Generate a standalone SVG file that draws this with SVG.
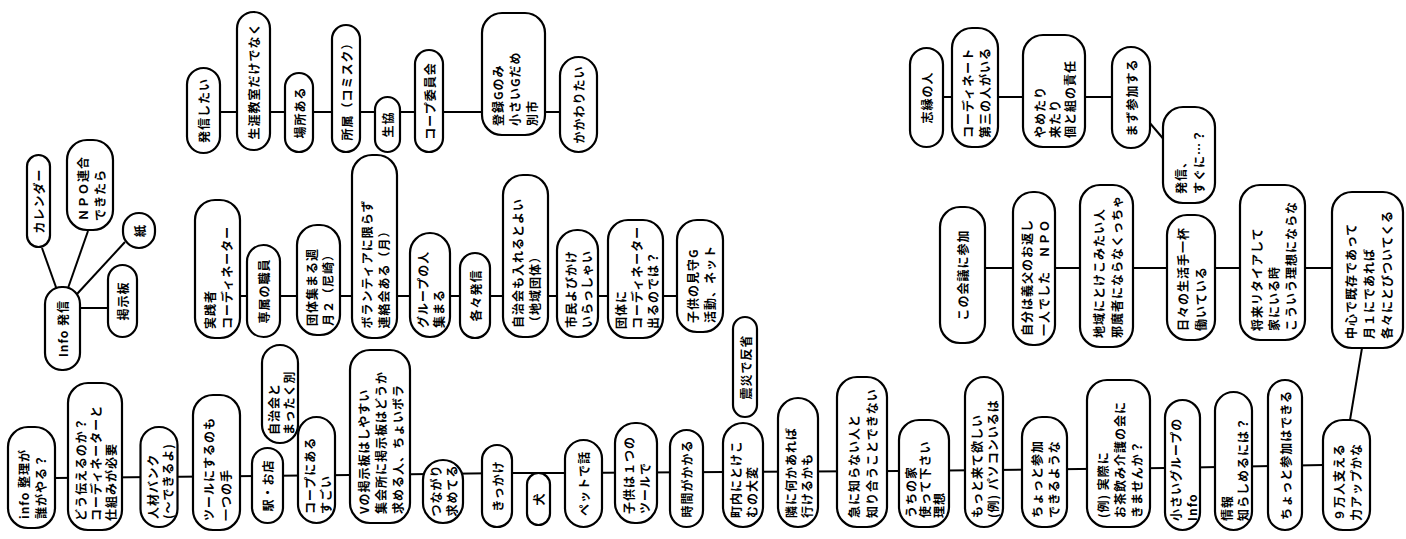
<svg xmlns="http://www.w3.org/2000/svg" width="1406" height="539" viewBox="0 0 1406 539">
<style>
.n rect{fill:#fff;stroke:#000;stroke-width:2.2}
.n text{font-family:"Noto Sans CJK JP","Noto Sans",sans-serif;font-size:12px;font-weight:700;fill:#000;dominant-baseline:central;letter-spacing:1px}
.n text.m{text-anchor:middle}
.c line,.c polyline{stroke:#000;stroke-width:2;fill:none}
</style>
<rect width="1406" height="539" fill="#fff"/>
<g id="connectors" class="c">
<line x1="42" y1="248" x2="57" y2="290"/>
<line x1="88" y1="231" x2="67" y2="291"/>
<line x1="125" y1="242" x2="77" y2="294"/>
<line x1="80" y1="308" x2="108" y2="308"/>
<line x1="220" y1="112" x2="560" y2="112"/>
<line x1="240" y1="296" x2="677" y2="296"/>
<polyline points="55,478 350,475 512,473 565,473 900,471 1165,468 1323,465"/>
<line x1="1350" y1="420" x2="1362" y2="348"/>
<line x1="943" y1="97" x2="1112" y2="97"/>
<line x1="1149" y1="122" x2="1166" y2="142"/>
<line x1="985" y1="268" x2="1332" y2="268"/>
</g>
<g id="info-hasshin" class="n" transform="translate(62.5,328.5) rotate(-90)"><rect x="-41.5" y="-17.5" width="83" height="35" rx="17"/><text class="m" x="0" y="0">Info 発信</text></g>
<g id="calendar" class="n" transform="translate(38.5,201) rotate(-90)"><rect x="-46" y="-11.5" width="92" height="23" rx="11.5"/><text class="m" x="0" y="0">カレンダー</text></g>
<g id="npo" class="n" transform="translate(90,185) rotate(-90)"><rect x="-45" y="-23" width="90" height="46" rx="20"/><text><tspan x="-36" y="-8.5">ＮＰＯ連合</tspan><tspan x="-36" y="8.5">できたら</tspan></text></g>
<g id="kami" class="n" transform="translate(139,230.5) rotate(-90)"><rect x="-17.5" y="-16" width="35" height="32" rx="16"/><text class="m" x="0" y="0">紙</text></g>
<g id="keijiban" class="n" transform="translate(122.5,301) rotate(-90)"><rect x="-36" y="-14.5" width="72" height="29" rx="14.5"/><text class="m" x="0" y="0">掲示板</text></g>
<g id="hasshin-shitai" class="n" transform="translate(203.5,110.5) rotate(-90)"><rect x="-42.5" y="-16.5" width="85" height="33" rx="16.5"/><text class="m" x="0" y="0">発信したい</text></g>
<g id="shogai" class="n" transform="translate(253.5,81) rotate(-90)"><rect x="-69" y="-16.5" width="138" height="33" rx="16.5"/><text class="m" x="0" y="0">生涯教室だけでなく</text></g>
<g id="basho" class="n" transform="translate(299,112.5) rotate(-90)"><rect x="-39.5" y="-14" width="79" height="28" rx="14"/><text class="m" x="0" y="0">場所ある</text></g>
<g id="shozoku" class="n" transform="translate(346,88.5) rotate(-90)"><rect x="-63.5" y="-14" width="127" height="28" rx="14"/><text class="m" x="0" y="0">所属（コミスク）</text></g>
<g id="seikyo" class="n" transform="translate(387.5,124.5) rotate(-90)"><rect x="-27.5" y="-12.5" width="55" height="25" rx="12.5"/><text class="m" x="0" y="0">生協</text></g>
<g id="coop-iinkai" class="n" transform="translate(429,101) rotate(-90)"><rect x="-51" y="-14" width="102" height="28" rx="14"/><text class="m" x="0" y="0">コープ委員会</text></g>
<g id="toroku" class="n" transform="translate(513.5,74) rotate(-90)"><rect x="-61" y="-31.5" width="122" height="63" rx="20"/><text><tspan x="-52" y="-17">登録Gのみ</tspan><tspan x="-52" y="0">小さいGだめ</tspan><tspan x="-52" y="17">別市</tspan></text></g>
<g id="kakawari" class="n" transform="translate(578.5,104.5) rotate(-90)"><rect x="-47.5" y="-18.5" width="95" height="37" rx="18.5"/><text class="m" x="0" y="0">かかわりたい</text></g>
<g id="jissen" class="n" transform="translate(217.5,269) rotate(-90)"><rect x="-69" y="-22.5" width="138" height="45" rx="20"/><text><tspan x="-60" y="-8.5">実践者</tspan><tspan x="-60" y="8.5">コーディネーター</tspan></text></g>
<g id="senzoku" class="n" transform="translate(263.5,291) rotate(-90)"><rect x="-46" y="-16.5" width="92" height="33" rx="16.5"/><text class="m" x="0" y="0">専属の職員</text></g>
<g id="dantai" class="n" transform="translate(318.5,280) rotate(-90)"><rect x="-55" y="-21.5" width="110" height="43" rx="20"/><text><tspan x="-46" y="-8">団体集まる週</tspan><tspan x="-46" y="8">月２（尼崎）</tspan></text></g>
<g id="volunteer" class="n" transform="translate(374.5,246.5) rotate(-90)"><rect x="-91.5" y="-22.5" width="183" height="45" rx="20"/><text><tspan x="-82" y="-8.5">ボランティアに限らず</tspan><tspan x="-82" y="8.5">連絡会ある（月）</tspan></text></g>
<g id="group" class="n" transform="translate(430,285) rotate(-90)"><rect x="-52" y="-20" width="104" height="40" rx="20"/><text><tspan x="-43" y="-8">グループの人</tspan><tspan x="-43" y="8">集まる</tspan></text></g>
<g id="kakuon" class="n" transform="translate(475,295.5) rotate(-90)"><rect x="-42.5" y="-15" width="85" height="30" rx="15"/><text class="m" x="0" y="0">各々発信</text></g>
<g id="jichikai" class="n" transform="translate(525.5,256) rotate(-90)"><rect x="-81" y="-22.5" width="162" height="45" rx="20"/><text><tspan x="-72" y="-8.5">自治会も入れるとよい</tspan><tspan x="-72" y="8.5">（地域団体）</tspan></text></g>
<g id="shimin" class="n" transform="translate(577.5,283.5) rotate(-90)"><rect x="-53.5" y="-20.5" width="107" height="41" rx="20"/><text><tspan x="-44.5" y="-8">市民よびかけ</tspan><tspan x="-44.5" y="8">いらっしゃい</tspan></text></g>
<g id="dantaini" class="n" transform="translate(635.5,279) rotate(-90)"><rect x="-59" y="-27.5" width="118" height="55" rx="20"/><text><tspan x="-50" y="-16">団体に</tspan><tspan x="-50" y="0">コーディネーター</tspan><tspan x="-50" y="16">出るのでは？</tspan></text></g>
<g id="kodomo-g" class="n" transform="translate(700,276) rotate(-90)"><rect x="-56" y="-23" width="112" height="46" rx="20"/><text><tspan x="-47" y="-8.5">子供の見守G</tspan><tspan x="-47" y="8.5">活動、ネット</tspan></text></g>
<g id="b1" class="n" transform="translate(31.5,477.5) rotate(-90)"><rect x="-50.5" y="-23.5" width="101" height="47" rx="20"/><text><tspan x="-41.5" y="-8.5">info 整理が</tspan><tspan x="-41.5" y="8.5">誰がやる？</tspan></text></g>
<g id="b2" class="n" transform="translate(95,456.5) rotate(-90)"><rect x="-73.5" y="-27" width="147" height="54" rx="20"/><text><tspan x="-64.5" y="-15">どう伝えるのか？</tspan><tspan x="-64.5" y="0">コーディネーターと</tspan><tspan x="-64.5" y="15">仕組みが必要</tspan></text></g>
<g id="b3" class="n" transform="translate(159,477) rotate(-90)"><rect x="-50" y="-18.5" width="100" height="37" rx="18"/><text><tspan x="-42" y="-7.5">人材バンク</tspan><tspan x="-42" y="7.5">(〜できるよ)</tspan></text></g>
<g id="b4" class="n" transform="translate(216.5,462.5) rotate(-90)"><rect x="-67.5" y="-23.5" width="135" height="47" rx="20"/><text><tspan x="-58.5" y="-8.5">ツールにするのも</tspan><tspan x="-58.5" y="8.5">一つの手</tspan></text></g>
<g id="b5" class="n" transform="translate(267.5,485.5) rotate(-90)"><rect x="-37.5" y="-15.5" width="75" height="31" rx="15.5"/><text class="m" x="0" y="0">駅・お店</text></g>
<g id="jichi-betsu" class="n" transform="translate(280,394) rotate(-90)"><rect x="-49" y="-18" width="98" height="36" rx="18"/><text><tspan x="-41" y="-7.5">自治会と</tspan><tspan x="-41" y="7.5">まったく別</tspan></text></g>
<g id="b6" class="n" transform="translate(316.5,470) rotate(-90)"><rect x="-53" y="-18.5" width="106" height="37" rx="18.5"/><text><tspan x="-44" y="-8">コープにある</tspan><tspan x="-44" y="8">すごい</tspan></text></g>
<g id="b7" class="n" transform="translate(380,436.5) rotate(-90)"><rect x="-86.5" y="-30" width="173" height="60" rx="20"/><text><tspan x="-77.5" y="-17">Vの掲示板はしやすい</tspan><tspan x="-77.5" y="0">集会所に掲示板はどうか</tspan><tspan x="-77.5" y="17">求める人、ちょいボラ</tspan></text></g>
<g id="b8" class="n" transform="translate(443,491.5) rotate(-90)"><rect x="-31.5" y="-20" width="63" height="40" rx="20"/><text><tspan x="-25" y="-8">つながり</tspan><tspan x="-25" y="8">求めてる</tspan></text></g>
<g id="b9" class="n" transform="translate(497,486) rotate(-90)"><rect x="-41" y="-15" width="82" height="30" rx="15"/><text class="m" x="0" y="0">きっかけ</text></g>
<g id="b10" class="n" transform="translate(538.5,499) rotate(-90)"><rect x="-26" y="-11.5" width="52" height="23" rx="11.5"/><text class="m" x="0" y="0">犬</text></g>
<g id="b11" class="n" transform="translate(583.5,483.5) rotate(-90)"><rect x="-43.5" y="-18.5" width="87" height="37" rx="18.5"/><text class="m" x="0" y="0">ペットで話</text></g>
<g id="b12" class="n" transform="translate(636,473) rotate(-90)"><rect x="-50" y="-21" width="100" height="42" rx="20"/><text><tspan x="-41" y="-8">子供は１つの</tspan><tspan x="-41" y="8">ツールで</tspan></text></g>
<g id="b13" class="n" transform="translate(686.5,478.5) rotate(-90)"><rect x="-48.5" y="-16.5" width="97" height="33" rx="16.5"/><text class="m" x="0" y="0">時間がかかる</text></g>
<g id="b14" class="n" transform="translate(743,475) rotate(-90)"><rect x="-52" y="-20" width="104" height="40" rx="20"/><text><tspan x="-43" y="-8">町内にとけこ</tspan><tspan x="-43" y="8">むの大変</tspan></text></g>
<g id="shinsai" class="n" transform="translate(745,367) rotate(-90)"><rect x="-50" y="-12" width="100" height="24" rx="12"/><text class="m" x="0" y="0">震災で反省</text></g>
<g id="b15" class="n" transform="translate(798,462.5) rotate(-90)"><rect x="-64.5" y="-20" width="129" height="40" rx="20"/><text><tspan x="-55.5" y="-8">隣に何かあれば</tspan><tspan x="-55.5" y="8">行けるかも</tspan></text></g>
<g id="b16" class="n" transform="translate(862,452) rotate(-90)"><rect x="-75" y="-25" width="150" height="50" rx="20"/><text><tspan x="-66" y="-9">急に知らない人と</tspan><tspan x="-66" y="9">知り合うことできない</tspan></text></g>
<g id="b17" class="n" transform="translate(924,473.5) rotate(-90)"><rect x="-53.5" y="-25" width="107" height="50" rx="20"/><text><tspan x="-44.5" y="-14">うちの家</tspan><tspan x="-44.5" y="0">使って下さい</tspan><tspan x="-44.5" y="14">理想</tspan></text></g>
<g id="b18" class="n" transform="translate(984,452) rotate(-90)"><rect x="-75" y="-19" width="150" height="38" rx="19"/><text><tspan x="-66" y="-8">もっと来て欲しい</tspan><tspan x="-66" y="8">(例) パソコンいるは</tspan></text></g>
<g id="b19" class="n" transform="translate(1044.5,472) rotate(-90)"><rect x="-55" y="-22.5" width="110" height="45" rx="20"/><text><tspan x="-46" y="-8.5">ちょっと参加</tspan><tspan x="-46" y="8.5">できるような</tspan></text></g>
<g id="b20" class="n" transform="translate(1118.5,453.5) rotate(-90)"><rect x="-73.5" y="-31.5" width="147" height="63" rx="20"/><text><tspan x="-64.5" y="-17">(例) 実際に</tspan><tspan x="-64.5" y="0">お茶飲み介護の会に</tspan><tspan x="-64.5" y="17">きませんか？</tspan></text></g>
<g id="b21" class="n" transform="translate(1182.5,465) rotate(-90)"><rect x="-65" y="-17.5" width="130" height="35" rx="17.5"/><text><tspan x="-56" y="-8">小さいグループの</tspan><tspan x="-56" y="8">Info</tspan></text></g>
<g id="b22" class="n" transform="translate(1233.5,461) rotate(-90)"><rect x="-69" y="-18.5" width="138" height="37" rx="18.5"/><text><tspan x="-60" y="-8">情報</tspan><tspan x="-60" y="8">知らしめるには？</tspan></text></g>
<g id="b23" class="n" transform="translate(1285,455) rotate(-90)"><rect x="-75" y="-17" width="150" height="34" rx="17"/><text class="m" x="0" y="0">ちょっと参加はできる</text></g>
<g id="b24" class="n" transform="translate(1346.5,475) rotate(-90)"><rect x="-55" y="-23.5" width="110" height="47" rx="20"/><text><tspan x="-46" y="-8.5">９万人支える</tspan><tspan x="-46" y="8.5">力アップかな</tspan></text></g>
<g id="r1" class="n" transform="translate(926.5,97.5) rotate(-90)"><rect x="-49.5" y="-16.5" width="99" height="33" rx="16.5"/><text class="m" x="0" y="0">志縁の人</text></g>
<g id="r2" class="n" transform="translate(975,87.5) rotate(-90)"><rect x="-59.5" y="-23" width="119" height="46" rx="20"/><text><tspan x="-50.5" y="-8.5">コーディネート</tspan><tspan x="-50.5" y="8.5">第三の人がいる</tspan></text></g>
<g id="r3" class="n" transform="translate(1054,91) rotate(-90)"><rect x="-56" y="-31" width="112" height="62" rx="20"/><text><tspan x="-47" y="-15">やめたり</tspan><tspan x="-47" y="0">来たり</tspan><tspan x="-47" y="15">個と組の責任</tspan></text></g>
<g id="r4" class="n" transform="translate(1131,97.5) rotate(-90)"><rect x="-50.5" y="-19" width="101" height="38" rx="19"/><text class="m" x="0" y="0">まず参加する</text></g>
<g id="r5" class="n" transform="translate(1189,155) rotate(-90)"><rect x="-48" y="-26" width="96" height="52" rx="20"/><text><tspan x="-39" y="-9">発信、</tspan><tspan x="-39" y="9">すぐに…？</tspan></text></g>
<g id="m1" class="n" transform="translate(962.5,275) rotate(-90)"><rect x="-68" y="-22.5" width="136" height="45" rx="20"/><text class="m" x="0" y="0">この会議に参加</text></g>
<g id="m2" class="n" transform="translate(1034,268.5) rotate(-90)"><rect x="-76.5" y="-21" width="153" height="42" rx="20"/><text><tspan x="-67.5" y="-8.5">自分は義父のお返し</tspan><tspan x="-67.5" y="8.5">一人でした　ＮＰＯ</tspan></text></g>
<g id="m3" class="n" transform="translate(1106.5,266) rotate(-90)"><rect x="-81" y="-26.5" width="162" height="53" rx="20"/><text><tspan x="-72" y="-9">地域にとけこみたい人</tspan><tspan x="-72" y="9">邪魔者にならなくっちゃ</tspan></text></g>
<g id="m4" class="n" transform="translate(1191,277.5) rotate(-90)"><rect x="-62.5" y="-24" width="125" height="48" rx="20"/><text><tspan x="-53.5" y="-9">日々の生活手一杯</tspan><tspan x="-53.5" y="9">働いている</tspan></text></g>
<g id="m5" class="n" transform="translate(1272.5,262.5) rotate(-90)"><rect x="-77.5" y="-32.5" width="155" height="65" rx="20"/><text><tspan x="-68.5" y="-17">将来リタイアして</tspan><tspan x="-68.5" y="0">家にいる時</tspan><tspan x="-68.5" y="17">こういう理想にならな</tspan></text></g>
<g id="m6" class="n" transform="translate(1367.5,270) rotate(-90)"><rect x="-78" y="-35.5" width="156" height="71" rx="20"/><text><tspan x="-69" y="-18">中心で既存であって</tspan><tspan x="-69" y="0">月１にであれば</tspan><tspan x="-69" y="18">各々にとびついてくる</tspan></text></g>
</svg>
